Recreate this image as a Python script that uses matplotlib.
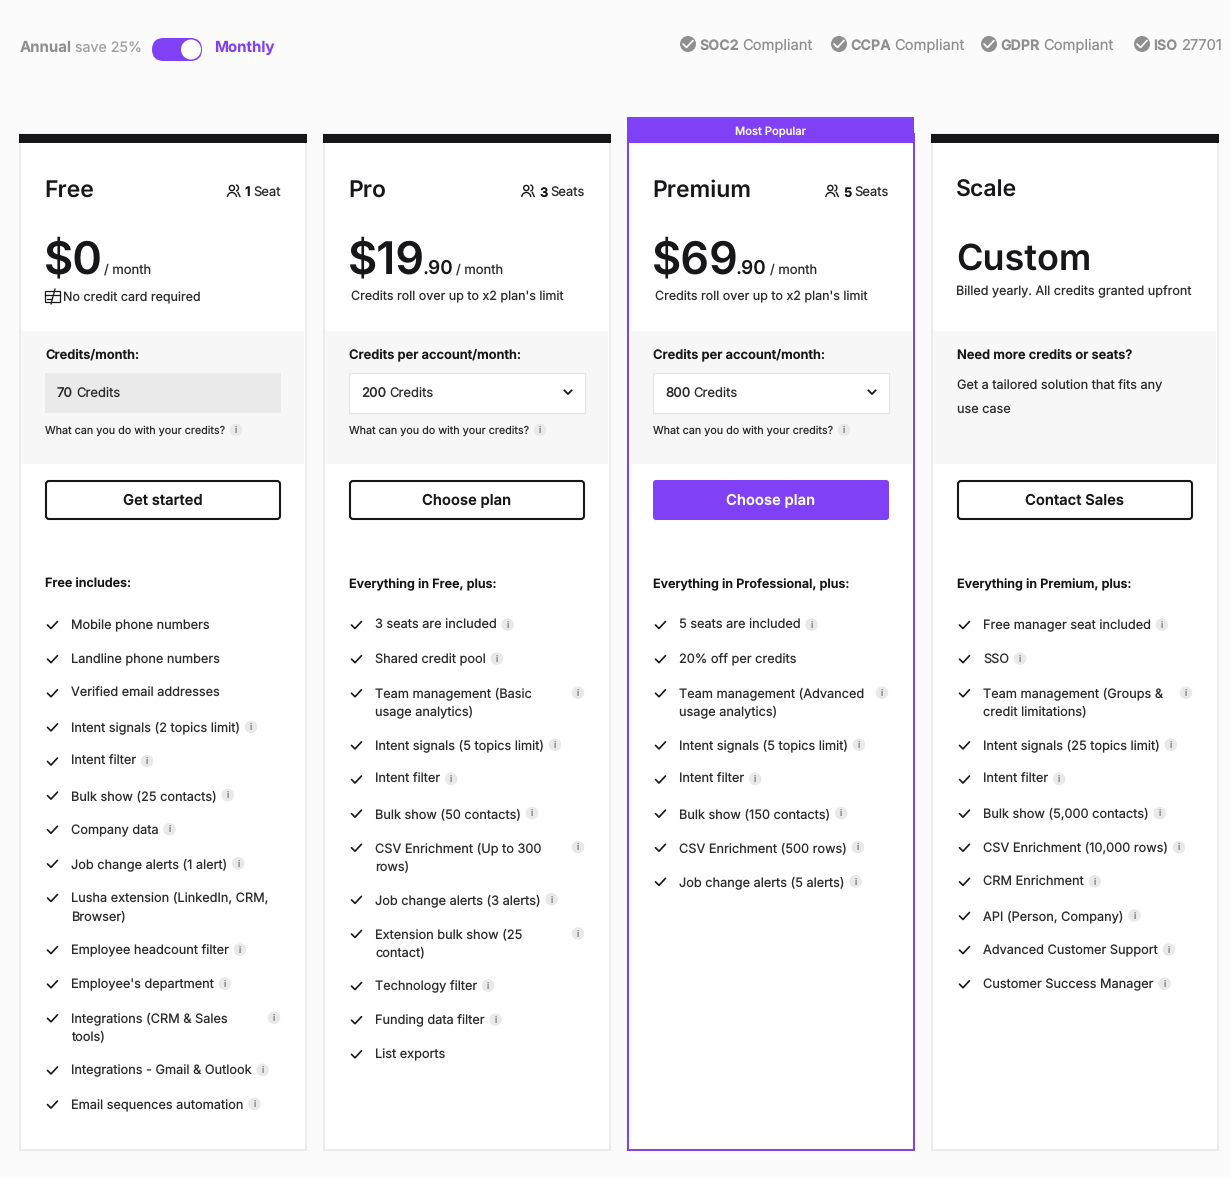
import matplotlib
matplotlib.use("Agg")
import matplotlib.pyplot as plt
from matplotlib.patches import Rectangle, FancyBboxPatch, Circle, Arc

plt.rcParams['font.family'] = ['Inter', 'DejaVu Sans']
plt.rcParams['text.hinting'] = 'no_hinting'

## Plan data
plans = ['Free', 'Pro', 'Premium', 'Scale']
seats = ['1', '3', '5', None]
seat_words = ['Seat', 'Seats', 'Seats', None]
price_main = ['$0', '$19', '$69', 'Custom']
price_cents = ['', '.90', '.90', '']
price_notes = ['No credit card required', "Credits roll over up to x2 plan's limit",
               "Credits roll over up to x2 plan's limit", 'Billed yearly. All credits granted upfront']
credit_titles = ['Credits/month:', 'Credits per account/month:', 'Credits per account/month:',
                 'Need more credits or seats?']
credit_values = ['70', '200', '800', None]
buttons = ['Get started', 'Choose plan', 'Choose plan', 'Contact Sales']
list_titles = ['Free includes:', 'Everything in Free, plus:', 'Everything in Professional, plus:',
               'Everything in Premium, plus:']

free_items = ['Mobile phone numbers', 'Landline phone numbers', 'Verified email addresses',
              'Intent signals (2 topics limit)', 'Intent filter', 'Bulk show (25 contacts)',
              'Company data', 'Job change alerts (1 alert)', 'Lusha extension (LinkedIn, CRM,\nBrowser)',
              'Employee headcount filter', "Employee's department", 'Integrations (CRM & Sales\ntools)',
              'Integrations - Gmail & Outlook', 'Email sequences automation']
pro_items = ['3 seats are included', 'Shared credit pool', 'Team management (Basic\nusage analytics)',
             'Intent signals (5 topics limit)', 'Intent filter', 'Bulk show (50 contacts)',
             'CSV Enrichment (Up to 300\nrows)', 'Job change alerts (3 alerts)',
             'Extension bulk show (25\ncontact)', 'Technology filter', 'Funding data filter', 'List exports']
premium_items = ['5 seats are included', '20% off per credits', 'Team management (Advanced\nusage analytics)',
                 'Intent signals (5 topics limit)', 'Intent filter', 'Bulk show (150 contacts)',
                 'CSV Enrichment (500 rows)', 'Job change alerts (5 alerts)']
scale_items = ['Free manager seat included', 'SSO', 'Team management (Groups &\ncredit limitations)',
               'Intent signals (25 topics limit)', 'Intent filter', 'Bulk show (5,000 contacts)',
               'CSV Enrichment (10,000 rows)', 'CRM Enrichment', 'API (Person, Company)',
               'Advanced Customer Support', 'Customer Success Manager']
no_info = ['Mobile phone numbers', 'Landline phone numbers', 'Verified email addresses',
           'Lusha extension (LinkedIn, CRM,\nBrowser)', 'List exports', '20% off per credits']
all_items = [free_items, pro_items, premium_items, scale_items]

compliance_bold = ['SOC2', 'CCPA', 'GDPR', 'ISO']
compliance_rest = ['Compliant', 'Compliant', 'Compliant', '27701']
compliance_x = [680, 831, 981, 1134]

INK = '#17171a'
BODY = '#2b2b2e'
PURPLE = '#8040f5'
GREY = '#8f8f8f'
PX = 0.72

fig = plt.figure(figsize=(12.31, 11.78), dpi=100, facecolor='#fbfbfc')
ax = fig.add_axes([0, 0, 1, 1])
ax.set_xlim(0, 1231)
ax.set_ylim(1178, 0)
ax.axis('off')
rend = fig.canvas.get_renderer()


def txt(x, y, s, px=14, w='normal', c=BODY, ha='left', **kw):
    t = ax.text(x, y, s, fontsize=px * PX, fontweight=w, color=c, ha=ha, va='baseline', **kw)
    return t


def width(t):
    return t.get_window_extent(rend).width


def rect(x0, y0, x1, y1, **kw):
    ax.add_patch(Rectangle((x0, y0), x1 - x0, y1 - y0, **kw))


def check(x, y, c=INK, lw=1.2):
    ax.plot([x - 5, x - 1.5, x + 5], [y, y + 3.5, y - 3.5], color=c, lw=lw, solid_capstyle='round', zorder=4)


def info(x, y):
    ax.add_patch(Circle((x, y), 6.3, fc='#e9e9e9', ec='none', zorder=3))
    txt(x, y + 3.2, 'i', px=9, c='#6f6f6f', ha='center', zorder=4)


def users(x, y):
    ax.add_patch(Circle((x - 2, y - 3), 2.6, fc='none', ec=INK, lw=1))
    ax.add_patch(Arc((x - 2, y + 6), 9, 9, theta1=180, theta2=360, ec=INK, lw=1))
    ax.add_patch(Arc((x + 2, y - 3), 5, 6, theta1=270, theta2=90, ec=INK, lw=1))
    ax.plot([x + 4, x + 6], [y + 1.5, y + 5.5], color=INK, lw=1)


def card_icon(x, y):
    rect(x, y - 6, x + 15, y + 5, fc='none', ec=INK, lw=0.9)
    ax.plot([x, x + 15], [y - 2.5, y - 2.5], color=INK, lw=0.9)
    ax.plot([x + 2, x + 6], [y + 1.5, y + 1.5], color=INK, lw=0.9)
    ax.plot([x + 6, x + 10], [y + 7, y - 8], color=INK, lw=0.9)


## Top row
txt(19.5, 52, 'Annual', px=15, w='bold', c=GREY)
txt(75, 52, 'save 25%', px=14.2, c='#a0a0a0')
ax.add_patch(FancyBboxPatch((152, 38), 50, 23, boxstyle='round,pad=0,rounding_size=11.5',
                            fc=PURPLE, ec='none'))
ax.add_patch(Circle((191, 49.5), 10, fc='white', ec='none'))
txt(214.5, 52, 'Monthly', px=15, w='bold', c=PURPLE)

for cx, b, r in zip(compliance_x, compliance_bold, compliance_rest):
    ax.add_patch(Circle((cx + 8, 44), 8, fc=GREY, ec='none'))
    check(cx + 8, 44, c='white', lw=1.2)
    t = txt(cx + 19.5, 50, b, px=14.2, w='bold', c=GREY)
    txt(cx + 19.5 + width(t) + 3, 50, r, px=14.7, c=GREY)

## Cards
for i, plan in enumerate(plans):
    col = 19 + 304 * i
    left = col + 26
    right = col + 262
    pop = plan == 'Premium'
    rect(col + 1, 134, col + 286.5, 1150, fc='white', ec='#7d4bdc' if pop else '#ececec',
         lw=1.5 if pop else 1.4, zorder=1)
    rect(col + 2, 331, col + 285, 464, fc='#f7f7f7', ec='none', zorder=1.5)
    if pop:
        rect(col, 117, col + 287, 143, fc=PURPLE, ec='none', zorder=2)
        txt(col + 143.5, 135, 'Most Popular', px=11.2, w='medium', c='white', ha='center', zorder=3)
    else:
        rect(col, 134, col + 288, 143, fc=INK, ec='none', zorder=2)

    txt(left - 1, 197, plan, px=23, w='semibold', c=INK)
    if seats[i]:
        t = txt(right, 196.4, seat_words[i], px=13, c=BODY, ha='right')
        t2 = txt(right - width(t) - 3, 196.4, seats[i], px=13, w='bold', c=INK, ha='right')
        users(right - width(t) - width(t2) - 14, 191)

    if plan == 'Scale':
        txt(left - 1, 270, price_main[i], px=36, w='semibold', c=INK)
        txt(left - 0.5, 295, price_notes[i], px=12.6)
    else:
        t = txt(left - 1, 273.5, price_main[i], px=45, w='semibold', c=INK)
        xp = left + width(t) - 4
        if price_cents[i]:
            t = txt(xp, 274, price_cents[i], px=19, w='semibold', c=INK)
            xp += width(t) + 3
        else:
            xp += 4
        txt(xp, 274, '/ month', px=13)
        if plan == 'Free':
            card_icon(left, 297)
            txt(left + 18, 301, price_notes[i], px=12.5)
        else:
            txt(left + 2, 300, price_notes[i], px=12.5)

    txt(left, 358.8, credit_titles[i], px=12.9, w='semibold', c=INK)
    if plan == 'Free':
        rect(left, 373, right, 413, fc='#eaeaea', ec='none', zorder=2)
    elif plan != 'Scale':
        rect(left, 373, right - 0.5, 413, fc='white', ec='#e4e4e4', lw=0.8, zorder=2)
        ax.plot([right - 20.5, right - 17, right - 13.5], [390.5, 394, 390.5], color=INK, lw=1.3, zorder=3)
    if credit_values[i]:
        t = txt(left + 12, 397, credit_values[i], px=13.2, w='medium', c=BODY, zorder=3)
        txt(left + 12 + width(t) + 3, 397, 'Credits', px=13, zorder=3)
        t = txt(left, 434, 'What can you do with your credits?', px=10.8)
        info(left + width(t) + 11, 430)
    else:
        txt(left, 389, 'Get a tailored solution that fits any', px=12.7)
        txt(left, 413, 'use case', px=12.7)

    if pop:
        ax.add_patch(FancyBboxPatch((left, 480), 236, 40, boxstyle='round,pad=0,rounding_size=3',
                                    fc=PURPLE, ec='none', zorder=2))
        txt(left + 118, 505, buttons[i], px=14.8, w='semibold', c='white', ha='center', zorder=3)
    else:
        ax.add_patch(FancyBboxPatch((left + 1, 481), 234, 38, boxstyle='round,pad=0,rounding_size=3',
                                    fc='white', ec=INK, lw=1.5, zorder=2))
        txt(left + 118, 505, buttons[i], px=14.8, w='semibold', c=INK, ha='center', zorder=3)

    txt(left, 588, list_titles[i], px=12.6, w='semibold', c=INK)

    y = 624
    for item in all_items[i]:
        check(left + 7.5, y + 1)
        lines = item.split('\n')
        for k, line in enumerate(lines):
            t = txt(left + 26, round(y + 5) + 18 * k, line, px=12.75)
        if item not in no_info:
            if len(lines) > 1:
                info(col + 255, y + 0.5)
            else:
                info(left + 26 + width(t) + 11, y + 0.5)
        y += 52.12 if len(lines) > 1 else 34.12

fig.savefig('out.png', dpi=100, facecolor=fig.get_facecolor())
